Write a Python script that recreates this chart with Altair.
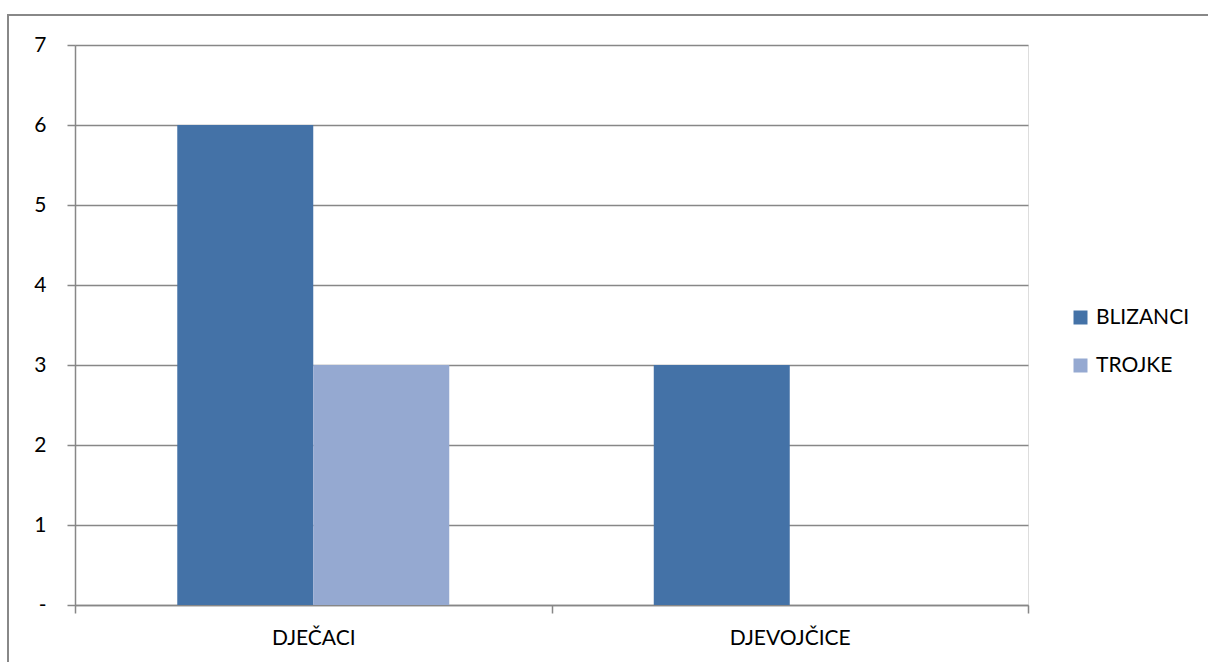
import altair as alt
import pandas as pd

# Data
categories = ["DJEČACI", "DJEVOJČICE"]
series = ["BLIZANCI", "TROJKE"]
blizanci = [6, 3]
trojke = [3, 0]
colors = ["#4472A7", "#95A9D1"]

rows = []
for i, cat in enumerate(categories):
    rows.append({"kategorija": cat, "serija": series[0], "broj": blizanci[i]})
    rows.append({"kategorija": cat, "serija": series[1], "broj": trojke[i]})
df = pd.DataFrame(rows)

FONT = "Lato"
FS = 21
GRID = "#878787"
W, H = 953, 560

bars = alt.Chart(df).mark_bar(stroke=None).encode(
    x=alt.X(
        "kategorija:N",
        sort=categories,
        title=None,
        scale=alt.Scale(paddingInner=0, paddingOuter=0),
        axis=alt.Axis(
            labelAngle=0,
            labelFont=FONT,
            labelFontSize=FS,
            labelColor="#000000",
            labelPadding=14,
            domainColor=GRID,
            domainWidth=1.5,
            tickColor=GRID,
            tickWidth=1.5,
            tickSize=8,
            tickBand="extent",
            grid=False,
        ),
    ),
    xOffset=alt.XOffset(
        "serija:N",
        sort=series,
        scale=alt.Scale(paddingInner=0, paddingOuter=0.752),
    ),
    y=alt.Y(
        "broj:Q",
        title=None,
        scale=alt.Scale(domain=[0, 7], nice=False),
        axis=alt.Axis(
            values=[0, 1, 2, 3, 4, 5, 6, 7],
            labelExpr="datum.value == 0 ? '-' : datum.label",
            labelFont=FONT,
            labelFontSize=FS,
            labelColor="#000000",
            labelPadding=21,
            domainColor=GRID,
            domainWidth=1.5,
            tickColor=GRID,
            tickWidth=1.5,
            tickSize=8,
            gridColor=GRID,
            gridWidth=1.5,
        ),
    ),
    color=alt.Color(
        "serija:N",
        sort=series,
        scale=alt.Scale(domain=series, range=colors),
        legend=alt.Legend(
            title=None,
            orient="none",
            legendX=995,
            legendY=262,
            symbolType="square",
            symbolSize=196,
            symbolStrokeWidth=0,
            labelFont=FONT,
            labelFontSize=FS,
            labelColor="#000000",
            labelOffset=5,
            rowPadding=26,
        ),
    ),
)

# Outer chart frame
frame = alt.Chart(pd.DataFrame({"f": [0]})).mark_rect(
    fill=None, stroke="#888888", strokeWidth=2, clip=False
).encode(
    x=alt.value(-67),
    x2=alt.value(1160),
    y=alt.value(-30),
    y2=alt.value(640),
)

chart = alt.layer(frame, bars).properties(
    width=W,
    height=H,
    autosize=alt.AutoSizeParams(type="none"),
    padding={"left": 75, "top": 45, "right": 180, "bottom": 57},
).configure_view(stroke=None).configure(background="#ffffff")

chart.save("out.html", embed_options={"renderer": "svg", "actions": False})
